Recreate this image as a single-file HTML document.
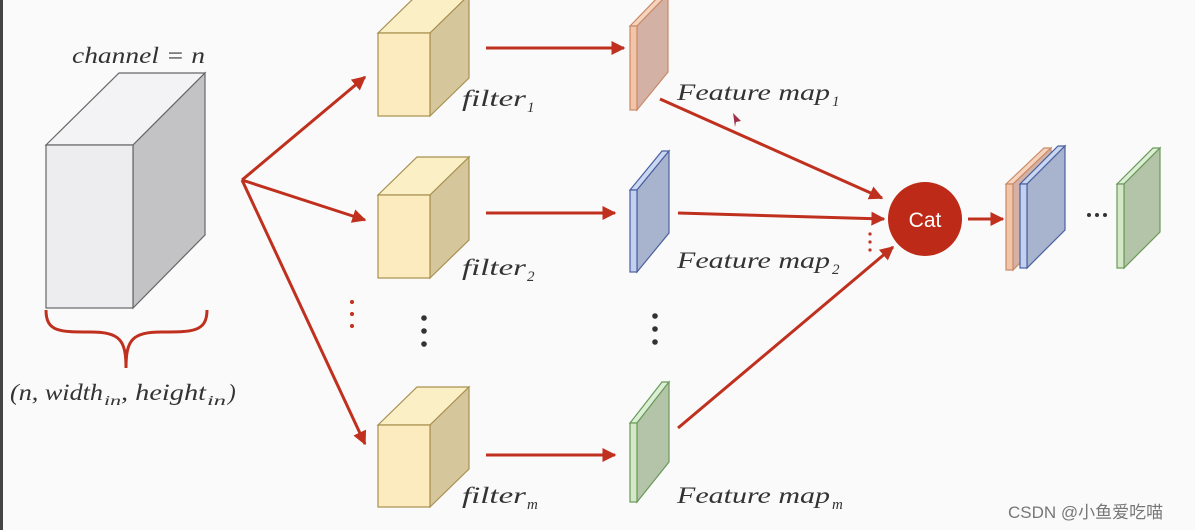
<!DOCTYPE html>
<html><head><meta charset="utf-8"><style>
html,body{margin:0;padding:0;background:#fafafa;}
svg{display:block}
text{font-family:"Liberation Serif",serif;font-style:italic;fill:#333;}
</style></head><body>
<svg width="1195" height="530" viewBox="0 0 1195 530" xmlns="http://www.w3.org/2000/svg">
<defs>
<marker id="a" viewBox="0 0 10 10" refX="9" refY="5" markerWidth="14" markerHeight="14" orient="auto" markerUnits="userSpaceOnUse"><path d="M0,0 L10,5 L0,10 Z" fill="#c0301e"/></marker>
</defs>
<rect width="1195" height="530" fill="#fafafa"/>
<rect x="0" y="0" width="3" height="530" fill="#444"/>
<!-- big box -->
<polygon points="46,145 119,73 205,73 133,145" fill="#f3f3f5" stroke="#666" stroke-width="1.2"/>
<polygon points="133,145 205,73 205,235 133,308" fill="#c3c3c5" stroke="#666" stroke-width="1.2"/>
<rect x="46" y="145" width="87" height="163" fill="#ededef" stroke="#666" stroke-width="1.2"/>
<text x="72" y="63" font-size="23" textLength="133" lengthAdjust="spacingAndGlyphs">channel = n</text>
<path d="M46,310 C46,332 60,332 90,332 C120,332 126,340 126,368 M126,368 C126,340 132,332 162,332 C192,332 207,332 207,310" fill="none" stroke="#c0301e" stroke-width="3"/>
<text x="10" y="400" font-size="23" textLength="93" lengthAdjust="spacingAndGlyphs">(n, width</text>
<text x="104" y="405" font-size="14" textLength="17" lengthAdjust="spacingAndGlyphs">in</text>
<text x="121" y="400" font-size="23" textLength="85" lengthAdjust="spacingAndGlyphs">, height</text>
<text x="207" y="405" font-size="14" textLength="19" lengthAdjust="spacingAndGlyphs">in</text>
<text x="228" y="400" font-size="23">)</text>
<!-- arrows -->
<g stroke="#c0301e" stroke-width="3" fill="none" marker-end="url(#a)">
<line x1="242" y1="180" x2="365" y2="77"/>
<line x1="242" y1="180" x2="365" y2="220"/>
<line x1="242" y1="180" x2="365" y2="444"/>
<line x1="486" y1="48" x2="624" y2="48"/>
<line x1="486" y1="213" x2="615" y2="213"/>
<line x1="486" y1="455" x2="615" y2="455"/>
<line x1="660" y1="99" x2="882" y2="198"/>
<line x1="678" y1="213" x2="884" y2="219"/>
<line x1="678" y1="428" x2="893" y2="247"/>
<line x1="968" y1="219" x2="1003" y2="219"/>
</g>
<!-- filter cubes -->
<g stroke="#a89050" stroke-width="1.2">
<polygon points="378,33 417,-5 469,-5 430,33" fill="#fbefc6"/>
<polygon points="430,33 469,-5 469,78 430,116" fill="#d6c69c"/>
<rect x="378" y="33" width="52" height="83" fill="#fbebbf"/>
<polygon points="378,195 417,157 469,157 430,195" fill="#fbefc6"/>
<polygon points="430,195 469,157 469,240 430,278" fill="#d6c69c"/>
<rect x="378" y="195" width="52" height="83" fill="#fbebbf"/>
<polygon points="378,425 417,387 469,387 430,425" fill="#fbefc6"/>
<polygon points="430,425 469,387 469,469 430,507" fill="#d6c69c"/>
<rect x="378" y="425" width="52" height="82" fill="#fbebbf"/>
</g>
<text x="462" y="106" font-size="23" textLength="64" lengthAdjust="spacingAndGlyphs">filter</text>
<text x="527" y="112" font-size="15">1</text>
<text x="462" y="275" font-size="23" textLength="64" lengthAdjust="spacingAndGlyphs">filter</text>
<text x="527" y="281" font-size="15">2</text>
<text x="462" y="503" font-size="23" textLength="64" lengthAdjust="spacingAndGlyphs">filter</text>
<text x="527" y="509" font-size="15">m</text>
<!-- dots -->
<g fill="#c0301e"><circle cx="352" cy="302" r="2"/><circle cx="352" cy="314" r="2"/><circle cx="352" cy="326" r="2"/>
<circle cx="870" cy="234" r="1.6"/><circle cx="870" cy="242" r="1.6"/><circle cx="870" cy="250" r="1.6"/></g>
<g fill="#333"><circle cx="424" cy="318" r="2.8"/><circle cx="424" cy="331" r="2.8"/><circle cx="424" cy="344" r="2.8"/>
<circle cx="655" cy="316" r="2.8"/><circle cx="655" cy="329" r="2.8"/><circle cx="655" cy="342" r="2.8"/>
<circle cx="1089" cy="215" r="2"/><circle cx="1097" cy="215" r="2"/><circle cx="1105" cy="215" r="2"/></g>
<!-- feature maps -->
<g stroke-width="1.2">
<polygon points="630,26 661,-6 668,-6 637,26" fill="#f6d3bd" stroke="#c98a68"/>
<polygon points="637,26 668,-6 668,72 637,110" fill="#d3b2a5" stroke="#c98a68"/>
<rect x="630" y="26" width="7" height="84" fill="#f2c4a8" stroke="#c98a68"/>
<polygon points="630,190 662,151 669,151 637,190" fill="#cad7f0" stroke="#4a5fa0"/>
<polygon points="637,190 669,151 669,233 637,272" fill="#a8b4ce" stroke="#4a5fa0"/>
<rect x="630" y="190" width="7" height="82" fill="#c2d1ef" stroke="#4a5fa0"/>
<polygon points="630,423 662,382 669,382 637,423" fill="#dcefd6" stroke="#6a9a5a"/>
<polygon points="637,423 669,382 669,462 637,502" fill="#b4c4a8" stroke="#6a9a5a"/>
<rect x="630" y="423" width="7" height="79" fill="#d4e8c8" stroke="#6a9a5a"/>
<polygon points="1006,184 1044,148 1051,148 1013,184" fill="#f6d3bd" stroke="#c98a68"/>
<polygon points="1013,184 1051,148 1051,232 1013,270" fill="#d3b2a5" stroke="#c98a68"/>
<rect x="1006" y="184" width="7" height="86" fill="#f2c4a8" stroke="#c98a68"/>
<polygon points="1020,184 1058,146 1065,146 1027,184" fill="#cad7f0" stroke="#4a5fa0"/>
<polygon points="1027,184 1065,146 1065,230 1027,268" fill="#a8b4ce" stroke="#4a5fa0"/>
<rect x="1020" y="184" width="7" height="84" fill="#c2d1ef" stroke="#4a5fa0"/>
<polygon points="1117,184 1153,148 1160,148 1124,184" fill="#dcefd6" stroke="#6a9a5a"/>
<polygon points="1124,184 1160,148 1160,232 1124,268" fill="#b4c4a8" stroke="#6a9a5a"/>
<rect x="1117" y="184" width="7" height="84" fill="#d4e8c8" stroke="#6a9a5a"/>
</g>
<text x="677" y="100" font-size="23" textLength="153" lengthAdjust="spacingAndGlyphs">Feature map</text>
<text x="832" y="106" font-size="15">1</text>
<text x="677" y="268" font-size="23" textLength="153" lengthAdjust="spacingAndGlyphs">Feature map</text>
<text x="832" y="274" font-size="15">2</text>
<text x="677" y="503" font-size="23" textLength="153" lengthAdjust="spacingAndGlyphs">Feature map</text>
<text x="832" y="509" font-size="15">m</text>
<polygon points="733,113 741,121 736,122 735,127" fill="#a0304a"/>
<!-- Cat -->
<circle cx="925" cy="219" r="37" fill="#bd2a17"/>
<text x="925" y="227" font-size="21" text-anchor="middle" style="font-family:'Liberation Sans',sans-serif;font-style:normal;fill:#fff">Cat</text>
<text x="1008" y="518" font-size="17" style="font-family:'Liberation Sans','Noto Sans CJK SC',sans-serif;font-style:normal;fill:#777">CSDN @小鱼爱吃喵</text>
</svg>
</body></html>
